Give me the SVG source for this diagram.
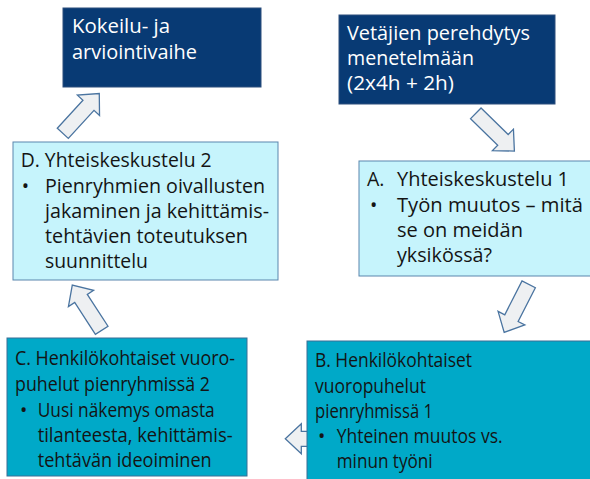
<svg xmlns="http://www.w3.org/2000/svg" xmlns:xlink="http://www.w3.org/1999/xlink" width="590" height="479" viewBox="0 0 590 479">
<style>
.t{font-family:"Open Sans","Noto Sans","Liberation Sans",sans-serif;font-size:19.5px;fill:#141414}
.w{fill:#ffffff;font-size:20px}
.navy{fill:#083a74;stroke:#2c4f7c;stroke-width:1}
.light{fill:#c6f4fc;stroke:#5a86ad;stroke-width:1}
.teal{fill:#00a9c8;stroke:#3a6f96;stroke-width:1}
.arr{fill:#eef0f2;stroke:#4a74a0;stroke-width:1.3;stroke-linejoin:miter}
</style>
<defs>
<polygon id="ba" points="0,-7.5 38,-7.5 38,-15 54,0 38,15 38,7.5 0,7.5"/>
</defs>
<rect width="590" height="479" fill="#ffffff"/>
<g id="connectors">
<use xlink:href="#ba" class="arr" transform="translate(62.8,133.3) rotate(-47.5)"/>
<use xlink:href="#ba" class="arr" transform="translate(475.8,113.3) rotate(44.4)"/>
<use xlink:href="#ba" class="arr" transform="translate(528.7,284.3) rotate(117)"/>
<use xlink:href="#ba" class="arr" transform="translate(101.7,330.3) rotate(-123)"/>
<use xlink:href="#ba" class="arr" transform="translate(339.3,438.8) rotate(180)"/>
</g>
<g id="kokeilu">
<rect class="navy" x="63" y="8" width="198" height="79"/>
<text class="t w" x="72" y="33.3" textLength="98" lengthAdjust="spacingAndGlyphs">Kokeilu- ja</text>
<text class="t w" x="72" y="59.3" textLength="125" lengthAdjust="spacingAndGlyphs">arviointivaihe</text>
</g>
<g id="vetajien">
<rect class="navy" x="339" y="15" width="216" height="89"/>
<text class="t w" x="347" y="40" textLength="183" lengthAdjust="spacingAndGlyphs">Vetäjien perehdytys</text>
<text class="t w" x="347" y="65" textLength="127" lengthAdjust="spacingAndGlyphs">menetelmään</text>
<text class="t w" x="347" y="90" textLength="107" lengthAdjust="spacingAndGlyphs">(2x4h + 2h)</text>
</g>
<g id="nodeA">
<rect class="light" x="359" y="161" width="232" height="115"/>
<text class="t" x="367" y="186">A.</text>
<text class="t" x="397" y="186" textLength="172" lengthAdjust="spacingAndGlyphs">Yhteiskeskustelu 1</text>
<text class="t" x="370" y="211.7">•</text>
<text class="t" x="397" y="211.7" textLength="186" lengthAdjust="spacingAndGlyphs">Työn muutos – mitä</text>
<text class="t" x="397" y="236.7" textLength="126" lengthAdjust="spacingAndGlyphs">se on meidän</text>
<text class="t" x="397" y="261.7" textLength="95" lengthAdjust="spacingAndGlyphs">yksikössä?</text>
</g>
<g id="nodeD">
<rect class="light" x="13" y="142" width="265" height="138"/>
<text class="t" x="20.7" y="167" textLength="191" lengthAdjust="spacingAndGlyphs">D. Yhteiskeskustelu 2</text>
<text class="t" x="21.7" y="193">•</text>
<text class="t" x="45" y="193" textLength="220" lengthAdjust="spacingAndGlyphs">Pienryhmien oivallusten</text>
<text class="t" x="45" y="218" textLength="224" lengthAdjust="spacingAndGlyphs">jakaminen ja kehittämis-</text>
<text class="t" x="45" y="243" textLength="203" lengthAdjust="spacingAndGlyphs">tehtävien toteutuksen</text>
<text class="t" x="45" y="268" textLength="103" lengthAdjust="spacingAndGlyphs">suunnittelu</text>
</g>
<g id="nodeC">
<rect class="teal" x="7" y="338" width="240" height="138"/>
<text class="t" x="15" y="365" textLength="220" lengthAdjust="spacingAndGlyphs">C. Henkilökohtaiset vuoro-</text>
<text class="t" x="15" y="391" textLength="195" lengthAdjust="spacingAndGlyphs">puhelut pienryhmissä 2</text>
<text class="t" x="20" y="416.7">•</text>
<text class="t" x="37.7" y="416.7" textLength="177" lengthAdjust="spacingAndGlyphs">Uusi näkemys omasta</text>
<text class="t" x="37.7" y="442" textLength="195" lengthAdjust="spacingAndGlyphs">tilanteesta, kehittämis-</text>
<text class="t" x="37.7" y="466.7" textLength="174" lengthAdjust="spacingAndGlyphs">tehtävän ideoiminen</text>
</g>
<g id="nodeB">
<rect class="teal" x="307" y="341" width="284" height="140"/>
<text class="t" x="315" y="367.3" textLength="157" lengthAdjust="spacingAndGlyphs">B. Henkilökohtaiset</text>
<text class="t" x="315" y="392.7" textLength="111" lengthAdjust="spacingAndGlyphs">vuoropuhelut</text>
<text class="t" x="315" y="417.7" textLength="118" lengthAdjust="spacingAndGlyphs">pienryhmissä 1</text>
<text class="t" x="318" y="443.3">•</text>
<text class="t" x="336.7" y="443.3" textLength="166" lengthAdjust="spacingAndGlyphs">Yhteinen muutos vs.</text>
<text class="t" x="336.7" y="468.3" textLength="96" lengthAdjust="spacingAndGlyphs">minun työni</text>
</g>
</svg>
